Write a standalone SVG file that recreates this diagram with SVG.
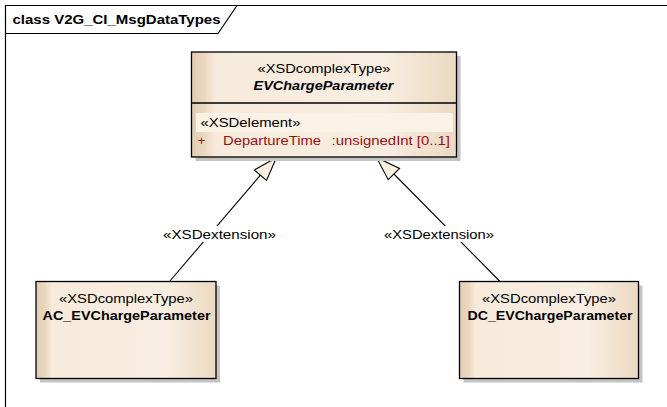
<svg xmlns="http://www.w3.org/2000/svg" width="667" height="407" viewBox="0 0 667 407">
  <defs>
    <linearGradient id="classFill" x1="0" y1="0" x2="1" y2="0">
      <stop offset="0" stop-color="#e2ccaf"/>
      <stop offset="0.05" stop-color="#ebd8c0"/>
      <stop offset="0.09" stop-color="#f6eadb"/>
      <stop offset="0.72" stop-color="#f8eee1"/>
      <stop offset="1" stop-color="#ebd9c1"/>
    </linearGradient>
    <style>
      .frame { fill: none; stroke: #000; stroke-width: 1.2; }
      .shadow { fill: #c4c4c4; }
      .box { fill: url(#classFill); stroke: #000; stroke-width: 1.3; }
      .sep { stroke: #000; stroke-width: 1.3; }
      .band { fill: #fbf2e6; }
      .txt { font-family: "Liberation Sans", Arial, sans-serif; font-size: 13.5px; fill: #000; }
      .bold { font-weight: bold; }
      .ital { font-style: italic; }
      .attr { fill: #9a0f0f; }
      .edge { fill: none; stroke: #000; stroke-width: 1.1; }
      .head { fill: #fbefdf; stroke: #000; stroke-width: 1.1; stroke-linejoin: miter; }
      .lblbg { fill: #fff; }
    </style>
  </defs>
  <rect width="667" height="407" fill="#fff"/>

  <!-- diagram frame with its name tab -->
  <g id="frame">
    <path class="frame" d="M5.5 407 V5.5 H667"/>
    <path class="frame" d="M5.5 33.5 H218 L237 5.5"/>
    <text class="txt bold" x="12.5" y="24" textLength="208" lengthAdjust="spacingAndGlyphs">class V2G_CI_MsgDataTypes</text>
  </g>

  <!-- generalization connectors -->
  <g id="connectors">
    <line class="edge" x1="260.4" y1="175.2" x2="169.5" y2="281.5"/>
    <polygon class="head" points="276.5,157.5 266.5,180.4 254.3,170"/>
    <rect class="lblbg" x="162" y="226" width="115" height="16"/>
    <text class="txt" x="219.5" y="238.5" text-anchor="middle" textLength="113" lengthAdjust="spacingAndGlyphs">«XSDextension»</text>

    <line class="edge" x1="393.9" y1="174" x2="500" y2="281.5"/>
    <polygon class="head" points="376.5,157.5 388.2,179.7 399.6,168.4"/>
    <rect class="lblbg" x="383" y="226" width="112" height="16"/>
    <text class="txt" x="439" y="238.5" text-anchor="middle" textLength="110" lengthAdjust="spacingAndGlyphs">«XSDextension»</text>
  </g>

  <!-- EVChargeParameter -->
  <g id="EVChargeParameter">
    <rect class="shadow" x="195.5" y="56" width="265" height="105"/>
    <rect class="box" x="191.5" y="52" width="265" height="105"/>
    <line class="sep" x1="191.5" y1="103" x2="456.5" y2="103"/>
    <rect class="band" x="196" y="113" width="257" height="19"/>
    <text class="txt" x="324" y="73" text-anchor="middle" textLength="133" lengthAdjust="spacingAndGlyphs">«XSDcomplexType»</text>
    <text class="txt bold ital" x="323.5" y="90" text-anchor="middle" textLength="140" lengthAdjust="spacingAndGlyphs">EVChargeParameter</text>
    <text class="txt" x="200.5" y="127" textLength="100" lengthAdjust="spacingAndGlyphs">«XSDelement»</text>
    <text class="txt attr" x="197.5" y="145">+</text>
    <text class="txt attr" x="223" y="145" textLength="98" lengthAdjust="spacingAndGlyphs">DepartureTime</text>
    <text class="txt attr" x="331.5" y="145" textLength="118.5" lengthAdjust="spacingAndGlyphs">:unsignedInt [0..1]</text>
  </g>

  <!-- AC_EVChargeParameter -->
  <g id="AC_EVChargeParameter">
    <rect class="shadow" x="40" y="285.5" width="180" height="97"/>
    <rect class="box" x="36" y="281.5" width="180" height="97"/>
    <text class="txt" x="126" y="303" text-anchor="middle" textLength="134" lengthAdjust="spacingAndGlyphs">«XSDcomplexType»</text>
    <text class="txt bold" x="126.5" y="320" text-anchor="middle" textLength="168" lengthAdjust="spacingAndGlyphs">AC_EVChargeParameter</text>
  </g>

  <!-- DC_EVChargeParameter -->
  <g id="DC_EVChargeParameter">
    <rect class="shadow" x="463.5" y="285.5" width="179" height="97"/>
    <rect class="box" x="459.5" y="281.5" width="179" height="97"/>
    <text class="txt" x="549" y="303" text-anchor="middle" textLength="134" lengthAdjust="spacingAndGlyphs">«XSDcomplexType»</text>
    <text class="txt bold" x="550" y="320" text-anchor="middle" textLength="165" lengthAdjust="spacingAndGlyphs">DC_EVChargeParameter</text>
  </g>
</svg>
